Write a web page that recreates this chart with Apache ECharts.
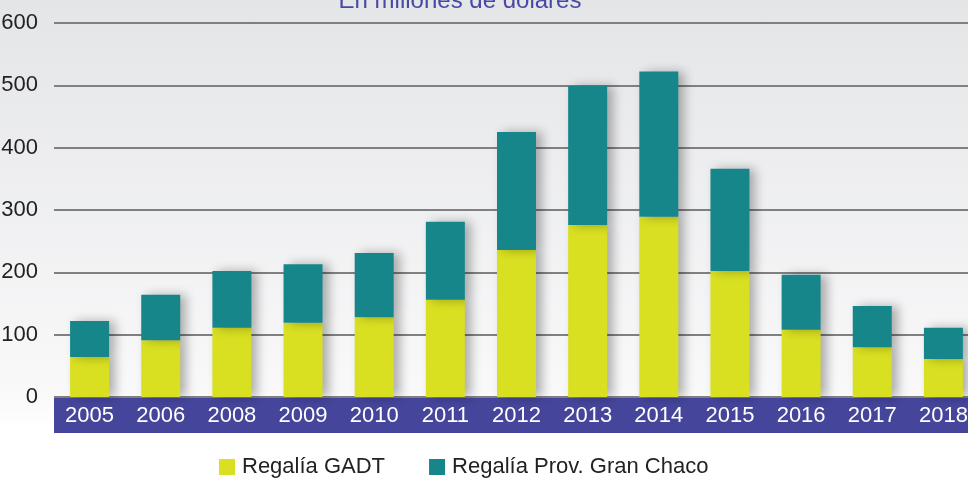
<!DOCTYPE html>
<html>
<head>
<meta charset="utf-8">
<script src="https://cdn.jsdelivr.net/npm/echarts@6/dist/echarts.min.js"></script>
<style>
  html, body { margin: 0; padding: 0; }
  body { background: linear-gradient(to bottom, #e4e5e7 0%, #f9f9fa 82%, #ffffff 90%, #ffffff 100%); }
  #chart { width: 968px; height: 479px; }
</style>
</head>
<body>
<div id="chart"></div>
<script>
// años (no hay 2007 en el original)
var years = ['2005', '2006', '2008', '2009', '2010', '2011', '2012', '2013', '2014', '2015', '2016', '2017', '2018']
// En millones de dólares
var regaliaGADT = [64, 91, 111, 119, 128, 156, 236, 276, 289, 202, 108, 80, 61]
var regaliaChaco = [58, 73, 91, 94, 103, 125, 189, 223, 233, 164, 88, 66, 50]
var yTicks = [0, 100, 200, 300, 400, 500, 600]

var font = "'Liberation Sans Narrow', 'Liberation Sans', sans-serif"
var barShadow = {
  shadowColor: 'rgba(0, 0, 0, 0.3)',
  shadowBlur: 10,
  shadowOffsetX: 6,
  shadowOffsetY: 0
}

var chart = echarts.init(document.getElementById('chart'))
chart.setOption({
  backgroundColor: 'transparent',
  animation: false,
  title: {
    text: 'En millones de dólares',
    left: 455,
    textAlign: 'center',
    top: -16,
    textStyle: {
      color: '#4848a6',
      fontFamily: font,
      fontWeight: 'normal',
      fontSize: 24
    }
  },
  legend: {
    left: 214,
    top: 451,
    itemWidth: 16,
    itemHeight: 16,
    itemGap: 44,
    icon: 'rect',
    textStyle: {
      color: '#222',
      fontFamily: font,
      fontSize: 22,
      padding: [0, 0, 0, 2]
    },
    data: ['Regalía GADT', 'Regalía Prov. Gran Chaco']
  },
  grid: {
    left: 54,
    right: -11,
    top: 23,
    bottom: 82,
    outerBoundsMode: 'none'
  },
  graphic: [
    {
      type: 'rect',
      z: 0,
      shape: { x: 54, y: 398, width: 914, height: 35 },
      style: { fill: '#45459b' }
    }
  ],
  xAxis: {
    type: 'category',
    data: years,
    axisLine: { show: false },
    axisTick: { show: false },
    axisLabel: {
      interval: 0,
      color: '#ffffff',
      fontFamily: font,
      fontSize: 22,
      margin: 8
    },
    z: 10
  },
  yAxis: {
    type: 'value',
    min: yTicks[0],
    max: yTicks[yTicks.length - 1],
    interval: 100,
    axisLine: { show: false },
    axisTick: { show: false },
    axisLabel: {
      color: '#222',
      fontFamily: font,
      fontSize: 22,
      margin: 16
    },
    splitLine: {
      lineStyle: { color: '#808080', width: 2 }
    }
  },
  series: [
    {
      name: 'Regalía GADT',
      type: 'bar',
      stack: 'total',
      barWidth: 39,
      data: regaliaGADT,
      itemStyle: Object.assign({ color: '#d9df21' }, barShadow)
    },
    {
      name: 'Regalía Prov. Gran Chaco',
      type: 'bar',
      stack: 'total',
      barWidth: 39,
      data: regaliaChaco,
      itemStyle: Object.assign({ color: '#16868b' }, barShadow)
    }
  ]
})
</script>
</body>
</html>
